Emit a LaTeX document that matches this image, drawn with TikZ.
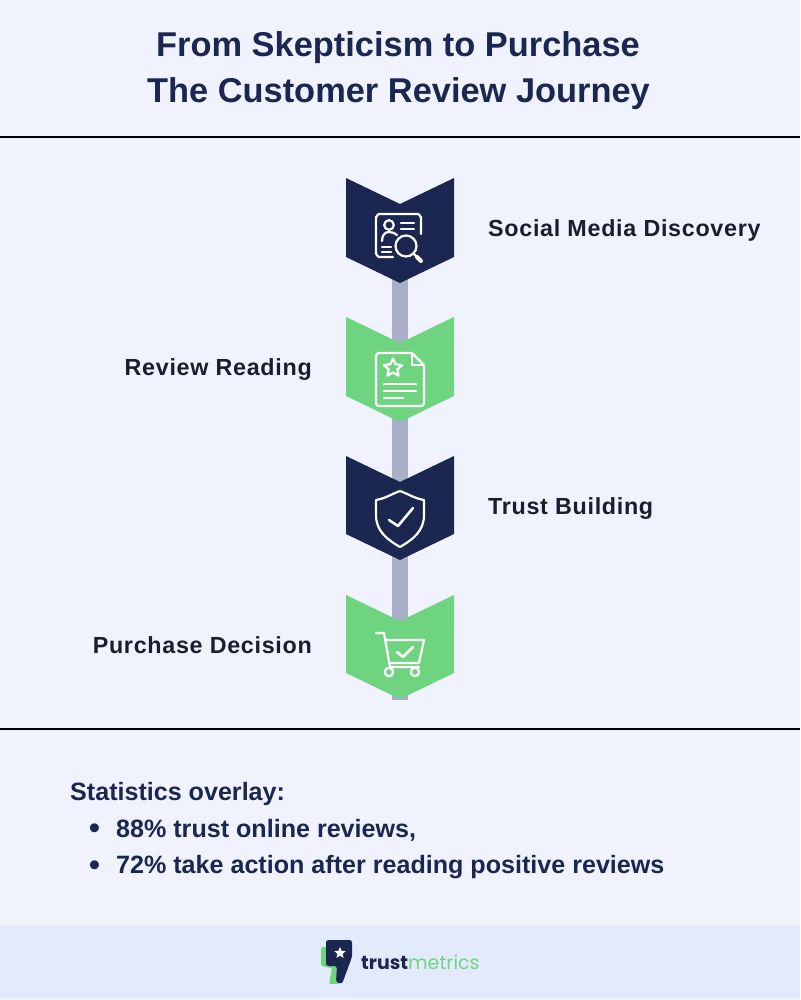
\documentclass[tikz,border=0pt]{standalone}
\usepackage{fontspec}
\setmainfont{Liberation Sans}
\newfontfamily\labelfont[LetterSpace=3]{Liberation Sans}
\newfontfamily\logofont{Poppins}
\usetikzlibrary{shapes.geometric}
\definecolor{pagebg}{HTML}{F0F3FE}
\definecolor{footbg}{HTML}{E3EAFB}
\definecolor{navy}{HTML}{1B2651}
\definecolor{leaf}{HTML}{6FD480}
\definecolor{spinegray}{HTML}{A9AFC8}
\definecolor{inkdark}{HTML}{1A1D2E}
\tikzset{
    titletext/.style={anchor=base,inner sep=0,text=navy,font=\bfseries\fontsize{34.4}{35}\selectfont},
    steptext/.style={inner sep=0,text=inkdark,font=\labelfont\bfseries\fontsize{23.3}{24}\selectfont},
    stattext/.style={anchor=base west,inner sep=0,text=navy,font=\bfseries\fontsize{25.1}{26}\selectfont},
    icon/.style={draw=white,line width=2.2pt,line cap=round,line join=round},
    spine/.style={draw=spinegray,line width=16pt},
    stepdot/.style={inner sep=0,minimum size=0pt}
}
\begin{document}
\begin{tikzpicture}[x=1pt,y=-1pt]
    \useasboundingbox (0,0) rectangle (800,1000);
    \fill[pagebg] (0,0) rectangle (800,1000);
    \fill[footbg] (0,926) rectangle (800,998);
    \draw[black,line width=2pt] (0,137) -- (800,137);
    \draw[black,line width=2pt] (0,729) -- (800,729);

    \node[titletext] (titleone) at (398,57) {From Skepticism to Purchase};
    \node[titletext] (titletwo) at (398.5,103) {The Customer Review Journey};

    \node[stepdot] (discovery) at (400,230) {};
    \node[stepdot] (reading) at (400,369) {};
    \node[stepdot] (trust) at (400,508) {};
    \node[stepdot] (decision) at (400,647) {};
    \coordinate (spineend) at (400,700);
    \draw[spine] (discovery) -- (reading);
    \draw[spine] (reading) -- (trust);
    \draw[spine] (trust) -- (decision);
    \draw[spine] (decision) -- (spineend);

    \fill[navy] (346,178) -- (400,204) -- (454,178) -- (454,257) -- (400,283) -- (346,257) -- cycle;
    \fill[leaf] (346,317) -- (400,343) -- (454,317) -- (454,396) -- (400,422) -- (346,396) -- cycle;
    \fill[navy] (346,456) -- (400,482) -- (454,456) -- (454,534) -- (400,560) -- (346,534) -- cycle;
    \fill[leaf] (346,595) -- (400,621) -- (454,595) -- (454,673) -- (400,699) -- (346,673) -- cycle;

    \node[steptext,anchor=base west] (discoverytext) at (488,236.5) {Social Media Discovery};
    \node[steptext,anchor=base east] (readingtext) at (312,375.5) {Review Reading};
    \node[steptext,anchor=base west] (trusttext) at (488,514.5) {Trust Building};
    \node[steptext,anchor=base east] (decisiontext) at (312,653.5) {Purchase Decision};

    % profile card and lens
    \draw[icon] (393,257) -- (379,257) to[out=180,in=90] (376,254) -- (376,217) to[out=-90,in=180] (379,214) -- (418,214) to[out=0,in=-90] (421,217) -- (421,234);
    \draw[icon] (389,225) circle (4.8);
    \draw[icon] (382,241) .. controls (382,235) and (385,232) .. (389,232) .. controls (392,232) and (395,233) .. (397,235);
    \draw[icon] (401,223) -- (414,223);
    \draw[icon] (401,229) -- (414,229);
    \draw[icon] (382,247) -- (391,247);
    \draw[icon] (382,252) -- (391,252);
    \draw[icon] (406,246) circle (10.5);
    \draw[icon] (414,254) -- (421,261);
    \draw[icon,line width=4pt] (417,257) -- (421,261);

    % page with star
    \draw[icon] (412,353) -- (379,353) to[out=180,in=90] (376,356) -- (376,403) to[out=-90,in=180] (379,406) -- (421,406) to[out=0,in=-90] (424,403) -- (424,365) -- cycle;
    \draw[icon] (412,353) -- (412,365) -- (424,365);
    \node[star,star points=5,star point ratio=2.1,icon,inner sep=0,minimum size=19pt] (pagestar) at (393,368) {};
    \draw[icon] (384,384) -- (416,384);
    \draw[icon] (384,391) -- (416,391);
    \draw[icon] (384,398) -- (403,398);

    % shield
    \draw[icon] (400,491) to[out=-20,in=170] (424,500) -- (424,515) to[out=-90,in=30] (400,547) to[out=150,in=-90] (376,515) -- (376,500) to[out=10,in=200] cycle;
    \draw[icon,line width=2.6pt] (389,520) -- (398,526) -- (413,508);

    % cart
    \draw[icon] (376,633) -- (384,633) -- (390,667) -- (419,667);
    \draw[icon] (385,640) -- (424,640) -- (419,663) -- (390,663);
    \draw[icon] (389,672) circle (4.2);
    \draw[icon] (415,672) circle (4.2);
    \draw[icon,line width=2.6pt] (397,652) -- (403,657) -- (413,647);

    \node[stattext] (stathead) at (70,800) {Statistics overlay:};
    \node[stattext,font=\bfseries\fontsize{31}{31}\selectfont] (bulletone) at (89,838.5) {•};
    \node[stattext] (statone) at (116,837) {88\% trust online reviews,};
    \node[stattext,font=\bfseries\fontsize{31}{31}\selectfont] (bullettwo) at (89,875) {•};
    \node[stattext] (stattwo) at (116,873.5) {72\% take action after reading positive reviews};

    % logo
    \fill[leaf,rounded corners=2pt] (321,947) -- (340,947) -- (340,984) -- (329,984) -- (332,968) -- (321,966) -- cycle;
    \fill[navy,rounded corners=2.5pt] (326,940) -- (352,940) -- (352,957) -- (342,984) -- (336,982) -- (337,966) -- (326,966) -- cycle;
    \node[star,star points=5,star point ratio=2.2,fill=white,inner sep=0,minimum size=12pt] (logostar) at (340,953) {};
    \node[anchor=base west,inner sep=0,font=\logofont\fontsize{19}{19}\selectfont] (logotext) at (361,969) {\textcolor{navy}{\textbf{trust}}\textcolor{leaf}{metrics}};
\end{tikzpicture}
\end{document}
